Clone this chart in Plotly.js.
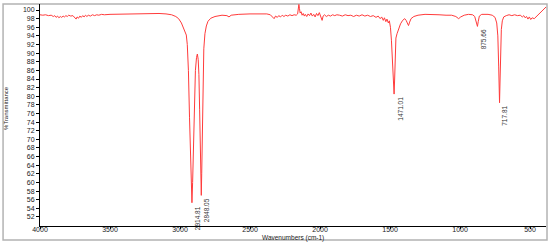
<!DOCTYPE html>
<html>
<head>
<meta charset="utf-8">
<script src="https://cdn.plot.ly/plotly-3.0.1.min.js"></script>
<style>
  html, body { margin: 0; padding: 0; background: #fff; }
  #chart { width: 550px; height: 244px; }
</style>
</head>
<body>
<div id="chart"></div>
<script>
// Spectrum
let wavenumber = [
  4000, 3980, 3960, 3940, 3920, 3905, 3895, 3885, 3875, 3865, 3855, 3845, 3835, 3825, 3815, 3805,
  3795, 3780, 3765, 3750, 3742, 3735, 3725, 3715, 3705, 3695, 3685, 3675, 3665, 3655, 3640, 3625,
  3610, 3595, 3580, 3560, 3540, 3500, 3400, 3300, 3200, 3150, 3100, 3060, 3030, 3010, 2990, 2975,
  2965, 2955, 2948, 2940, 2932, 2925, 2919, 2914.81, 2910, 2904, 2897, 2890, 2882, 2876, 2870, 2865,
  2860, 2855, 2851, 2848.05, 2845, 2841, 2836, 2830, 2822, 2812, 2800, 2780, 2750, 2700, 2665, 2650,
  2635, 2580, 2500, 2420, 2380, 2355, 2340, 2328, 2318, 2305, 2295, 2282, 2270, 2258, 2245, 2230,
  2215, 2200, 2185, 2170, 2160, 2155, 2151, 2147, 2142, 2135, 2128, 2120, 2112, 2105, 2095, 2085,
  2075, 2065, 2055, 2045, 2035, 2025, 2015, 2005, 1995, 1985, 1978, 1968, 1955, 1940, 1925, 1910,
  1895, 1880, 1860, 1840, 1820, 1800, 1780, 1760, 1740, 1720, 1700, 1680, 1660, 1640, 1620, 1600,
  1585, 1570, 1560, 1548, 1540, 1530, 1522, 1512, 1505, 1497, 1490, 1484, 1478, 1471.01, 1467, 1463,
  1458, 1450, 1440, 1425, 1410, 1395, 1385, 1375, 1368, 1360, 1350, 1330, 1300, 1250, 1200, 1150,
  1100, 1060, 1030, 1010, 995, 970, 940, 910, 895, 885, 879, 875.66, 870, 862, 845, 800,
  770, 750, 738, 730, 724, 720, 717.81, 714, 710, 705, 698, 688, 670, 650, 630, 610,
  590, 570, 555, 545, 535, 525, 515, 505, 495, 485, 470, 455, 440, 425, 410, 395, 386
];
let transmittance = [
  98.9, 98.8, 98.9, 98.7, 98.8, 98.5, 98.7, 98.3, 98.6, 98.2, 98.5, 98.3, 98.6, 98.4, 98.7, 98.5,
  98.8, 98.6, 98.7, 98.2, 97.9, 98.4, 98.1, 98.6, 98.3, 98.7, 98.4, 98.8, 98.5, 98.8, 98.6, 98.9,
  98.7, 98.9, 98.8, 99.0, 98.9, 99.0, 99.1, 99.1, 99.2, 99.2, 99.1, 98.9, 98.5, 98.0, 97.0, 95.8,
  95.0, 94.2, 92.0, 86.0, 75.0, 65.0, 58.0, 55.3, 60.0, 70.0, 80.0, 86.0, 89.0, 89.8, 88.5, 85.0,
  77.0, 67.0, 60.0, 57.0, 62.0, 72.0, 84.0, 91.0, 94.5, 96.3, 97.4, 98.1, 98.5, 98.8, 98.7, 98.4,
  98.8, 99.0, 99.1, 99.2, 99.1, 98.9, 98.4, 98.0, 98.6, 98.3, 98.7, 98.4, 98.8, 98.5, 98.8, 98.6,
  98.9, 98.7, 98.9, 98.8, 99.1, 100.2, 101.3, 100.4, 99.3, 99.6, 98.8, 99.2, 98.6, 99.0, 98.5, 99.1,
  98.7, 99.3, 98.6, 99.0, 98.4, 99.2, 98.7, 99.4, 98.3, 97.6, 98.6, 98.9, 98.5, 98.8, 98.6, 98.9,
  98.7, 98.9, 98.8, 98.6, 98.9, 98.7, 98.8, 98.5, 98.8, 98.6, 98.9, 98.6, 98.8, 98.5, 98.7, 98.3,
  98.6, 98.0, 98.4, 97.6, 98.2, 97.3, 97.9, 97.0, 97.5, 96.0, 93.0, 88.0, 83.0, 80.5, 84.0, 90.0,
  93.5, 94.5, 95.5, 96.8, 97.6, 98.0, 97.6, 96.8, 96.4, 97.2, 98.0, 98.5, 98.8, 99.0, 99.0, 98.9,
  98.8, 98.8, 98.5, 98.0, 98.4, 98.8, 99.0, 98.9, 98.5, 97.5, 96.5, 96.2, 97.3, 98.6, 99.0, 99.0,
  98.8, 98.3, 97.0, 94.0, 87.0, 81.0, 78.5, 84.0, 91.0, 95.5, 97.5, 98.4, 98.7, 98.9, 98.7, 98.9,
  98.7, 98.8, 98.4, 98.7, 98.2, 98.5, 97.9, 98.4, 97.8, 98.2, 98.0, 98.5, 98.8, 99.4, 99.9, 100.4, 100.7
];

// Peak labels
let peakWavenumbers = [2914.81, 2848.05, 1471.01, 875.66, 717.81];
let peakValues = [55.3, 57.0, 80.5, 96.2, 78.5];
let peakLabels = ["2914.81", "2848.05", "1471.01", "875.66", "717.81"];

let xTicks = [4000, 3500, 3000, 2500, 2000, 1500, 1000, 500];
let yTicks = [];
for (let v = 52; v <= 100; v += 2) yTicks.push(v);

let font = "Liberation Sans, Arial, sans-serif";

let annotations = peakWavenumbers.map((w, i) => ({
  x: w,
  y: peakValues[i],
  xref: "x",
  yref: "y",
  text: peakLabels[i],
  showarrow: false,
  textangle: -90,
  xanchor: "left",
  yanchor: "top",
  yshift: -1,
  font: { family: font, size: 6.5, color: "#333" }
}));

// axis titles
annotations.push({
  x: 0.5, y: -0.054, xref: "paper", yref: "paper",
  text: "Wavenumbers (cm-1)", showarrow: false,
  xanchor: "center", yanchor: "middle",
  font: { family: font, size: 6.5, color: "#222" }
});
annotations.push({
  x: -0.066, y: 0.53, xref: "paper", yref: "paper",
  text: "%Transmittance", showarrow: false, textangle: -90,
  xanchor: "center", yanchor: "middle",
  font: { family: font, size: 6, color: "#222" }
});

let traces = [{
  x: wavenumber,
  y: transmittance,
  type: "scatter",
  mode: "lines",
  line: { color: "#ff3b3b", width: 1 },
  hoverinfo: "skip"
}];

let layout = {
  width: 550,
  height: 244,
  margin: { l: 40, r: 4, t: 4, b: 18 },
  paper_bgcolor: "#fff",
  plot_bgcolor: "#fff",
  showlegend: false,
  font: { family: font, size: 7, color: "#222" },
  xaxis: {
    range: [4000, 386],
    tickvals: xTicks,
    ticktext: xTicks.map(String),
    ticks: "outside",
    ticklen: 2,
    tickcolor: "#000",
    ticklabelstandoff: -5,
    showgrid: false,
    zeroline: false,
    showline: true,
    linecolor: "#000",
    linewidth: 1,
    tickfont: { family: font, size: 7, color: "#222" }
  },
  yaxis: {
    range: [49.9, 101.4],
    tickvals: yTicks,
    ticktext: yTicks.map(String),
    ticks: "outside",
    ticklen: 3,
    tickcolor: "#000",
    showgrid: false,
    zeroline: false,
    showline: true,
    linecolor: "#000",
    linewidth: 1,
    tickfont: { family: font, size: 7, color: "#222" }
  },
  shapes: [{
    type: "rect",
    xref: "paper", yref: "paper",
    x0: -0.073, x1: 1.002, y0: -0.063, y1: 1.0,
    line: { color: "#b3b3b3", width: 1.5 },
    fillcolor: "rgba(0,0,0,0)",
    layer: "below"
  }],
  annotations: annotations
};

Plotly.newPlot("chart", traces, layout, { staticPlot: true });
</script>
</body>
</html>
